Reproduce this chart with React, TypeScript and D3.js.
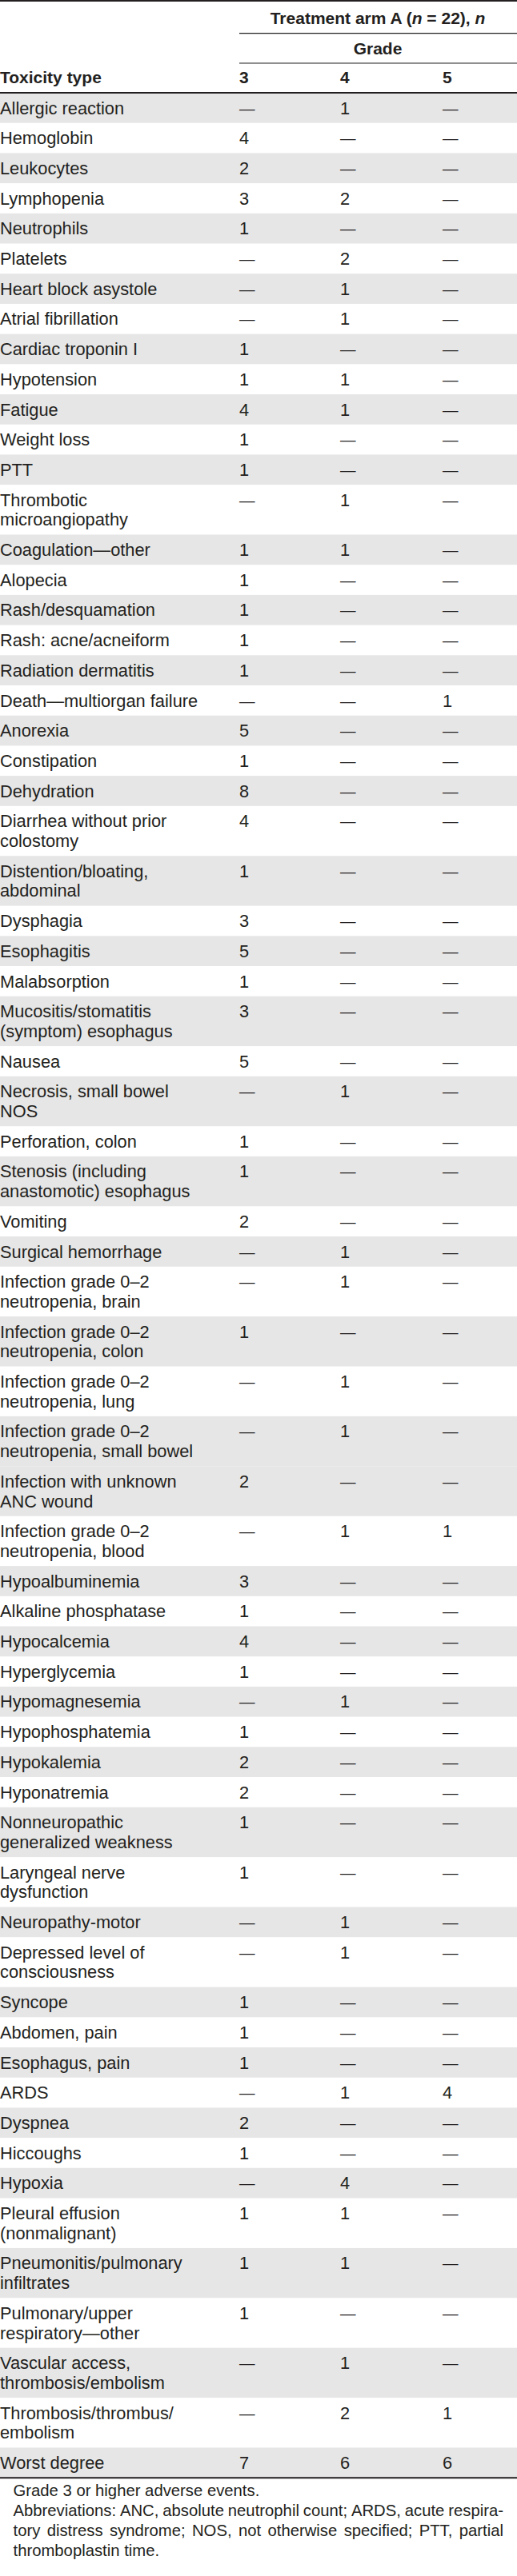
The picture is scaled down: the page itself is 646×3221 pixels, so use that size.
import React, { useEffect, useRef } from 'react';
import * as d3 from 'd3';

// rows of the table, "\n" marks where the printed label wraps
const toxicityTypes = [
  'Allergic reaction', 'Hemoglobin', 'Leukocytes', 'Lymphopenia', 'Neutrophils', 'Platelets',
  'Heart block asystole', 'Atrial fibrillation', 'Cardiac troponin I', 'Hypotension', 'Fatigue',
  'Weight loss', 'PTT', 'Thrombotic\nmicroangiopathy', 'Coagulation—other', 'Alopecia',
  'Rash/desquamation', 'Rash: acne/acneiform', 'Radiation dermatitis', 'Death—multiorgan failure',
  'Anorexia', 'Constipation', 'Dehydration', 'Diarrhea without prior\ncolostomy',
  'Distention/bloating,\nabdominal', 'Dysphagia', 'Esophagitis', 'Malabsorption',
  'Mucositis/stomatitis\n(symptom) esophagus', 'Nausea', 'Necrosis, small bowel\nNOS',
  'Perforation, colon', 'Stenosis (including\nanastomotic) esophagus', 'Vomiting',
  'Surgical hemorrhage', 'Infection grade 0–2\nneutropenia, brain', 'Infection grade 0–2\nneutropenia, colon',
  'Infection grade 0–2\nneutropenia, lung', 'Infection grade 0–2\nneutropenia, small bowel',
  'Infection with unknown\nANC wound', 'Infection grade 0–2\nneutropenia, blood', 'Hypoalbuminemia',
  'Alkaline phosphatase', 'Hypocalcemia', 'Hyperglycemia', 'Hypomagnesemia', 'Hypophosphatemia',
  'Hypokalemia', 'Hyponatremia', 'Nonneuropathic\ngeneralized weakness', 'Laryngeal nerve\ndysfunction',
  'Neuropathy-motor', 'Depressed level of\nconsciousness', 'Syncope', 'Abdomen, pain', 'Esophagus, pain',
  'ARDS', 'Dyspnea', 'Hiccoughs', 'Hypoxia', 'Pleural effusion\n(nonmalignant)',
  'Pneumonitis/pulmonary\ninfiltrates', 'Pulmonary/upper\nrespiratory—other',
  'Vascular access,\nthrombosis/embolism', 'Thrombosis/thrombus/\nembolism', 'Worst degree',
];

// null = "—"
const grade3 = [
  null, 4, 2, 3, 1, null, null, null, 1, 1, 4, 1, 1, null, 1, 1, 1, 1, 1, null,
  5, 1, 8, 4, 1, 3, 5, 1, 3, 5, null, 1, 1, 2, null, null, 1, null, null, 2,
  null, 3, 1, 4, 1, null, 1, 2, 2, 1, 1, null, null, 1, 1, 1, null, 2, 1, null,
  1, 1, 1, null, null, 7,
];
const grade4 = [
  1, null, null, 2, null, 2, 1, 1, null, 1, 1, null, null, 1, 1, null, null, null, null, null,
  null, null, null, null, null, null, null, null, null, null, 1, null, null, null, 1, 1, null, 1, 1, null,
  1, null, null, null, null, 1, null, null, null, null, null, 1, 1, null, null, null, 1, null, null, 4,
  1, 1, null, 1, 2, 6,
];
const grade5 = [
  null, null, null, null, null, null, null, null, null, null, null, null, null, null, null, null, null, null, null, 1,
  null, null, null, null, null, null, null, null, null, null, null, null, null, null, null, null, null, null, null, null,
  1, null, null, null, null, null, null, null, null, null, null, null, null, null, null, null, 4, null, null, null,
  null, null, null, null, 1, 6,
];

const gradeLabels = ['3', '4', '5'];

const footnoteLines = [
  'Grade 3 or higher adverse events.',
  'Abbreviations: ANC, absolute neutrophil count; ARDS, acute respira-',
  'tory distress syndrome; NOS, not otherwise specified; PTT, partial',
  'thromboplastin time.',
];
const justifiedLines = [false, true, true, false];

const W = 646;
const H = 3221;
const FONT = '"Liberation Sans", Arial, sans-serif';
const INK = '#231f20';
const SHADE = '#e6e6e6';

const App = () => {
  const svgRef = useRef<SVGSVGElement>(null);

  useEffect(() => {
    const svg = d3.select(svgRef.current);
    svg.selectAll('*').remove();
    svg.attr('width', W).attr('height', H);

    const headerH = 116;
    const rowH = 37.7;
    const lineH = 24.7;
    const baseOff = 26.5;
    const fontSize = 21.8;

    const rows = toxicityTypes.map((label, i) => ({
      lines: label.split('\n'),
      values: [grade3[i], grade4[i], grade5[i]],
    }));
    const heights = rows.map(r => rowH + (r.lines.length - 1) * lineH);
    const tops = [0, ...Array.from(d3.cumsum(heights))].map(v => v + headerH);
    const tableBottom = tops[rows.length];

    const xCol = d3.scaleOrdinal<string, number>().domain(gradeLabels).range([299, 425, 553]);

    const addText = (g, x, y, str, size = fontSize, weight = 'normal', anchor = 'start') =>
      g.append('text')
        .attr('x', x)
        .attr('y', y)
        .attr('font-family', FONT)
        .attr('font-size', size)
        .attr('font-weight', weight)
        .attr('text-anchor', anchor)
        .attr('fill', INK)
        .text(str);

    // row shading: alternates, but the two infection rows (small bowel / unknown ANC) are both shaded
    const shaded = (i: number) => (i < 39 ? i % 2 === 0 : i % 2 === 1);

    const body = svg.append('g');
    body.selectAll('rect')
      .data(rows.map((_, i) => i).filter(shaded))
      .join('rect')
      .attr('x', 0)
      .attr('width', W)
      .attr('y', i => tops[i])
      .attr('height', i => heights[i])
      .attr('fill', SHADE);

    rows.forEach((r, i) => {
      const label = addText(body, 0, tops[i] + baseOff, '');
      r.lines.forEach((ln, k) =>
        label.append('tspan').attr('x', 0).attr('dy', k === 0 ? 0 : lineH).text(ln));
      r.values.forEach((v, c) =>
        addText(body, xCol(gradeLabels[c]), tops[i] + baseOff, v == null ? '—' : String(v), v == null ? 19.5 : fontSize));
    });

    // header
    const head = svg.append('g');
    const headSize = 21;
    const title = addText(head, 472, 30, '', headSize, 'bold', 'middle');
    title.append('tspan').text('Treatment arm A (');
    title.append('tspan').attr('font-style', 'italic').text('n');
    title.append('tspan').text(' = 22), ');
    title.append('tspan').attr('font-style', 'italic').text('n');
    addText(head, 472, 67.5, 'Grade', headSize, 'bold', 'middle');
    addText(head, 0, 104, 'Toxicity type', headSize, 'bold');
    gradeLabels.forEach(g => addText(head, xCol(g), 104, g, headSize, 'bold'));

    const rule = (x1, x2, y, w) =>
      svg.append('line').attr('x1', x1).attr('x2', x2).attr('y1', y).attr('y2', y)
        .attr('stroke', INK).attr('stroke-width', w);
    rule(0, W, 1, 2);
    rule(299, W, 41.7, 1.2);
    rule(299, W, 79, 1.2);
    rule(0, W, headerH, 2);
    rule(0, W, tableBottom, 2);

    // footnotes, justified like the printed block
    const foot = svg.append('g');
    const left = 16.5;
    const right = 629;
    const footSize = 20.3;
    footnoteLines.forEach((line, i) => {
      const y = tableBottom + 22.7 + i * 25;
      if (!justifiedLines[i]) {
        addText(foot, left, y, line, footSize);
        return;
      }
      const words = line.split(' ');
      const nodes = words.map(w => addText(foot, 0, y, w, footSize));
      const widths = nodes.map(n => (n.node() as SVGTextElement).getComputedTextLength());
      const gap = Math.max(3, (right - left - d3.sum(widths)) / (words.length - 1));
      let cx = left;
      nodes.forEach((n, k) => {
        n.attr('x', cx);
        cx += widths[k] + gap;
      });
    });
  }, []);

  return (
    <div style={{ position: 'absolute', left: 0, top: 0 }}>
      <svg ref={svgRef}></svg>
    </div>
  );
};

export default App;
